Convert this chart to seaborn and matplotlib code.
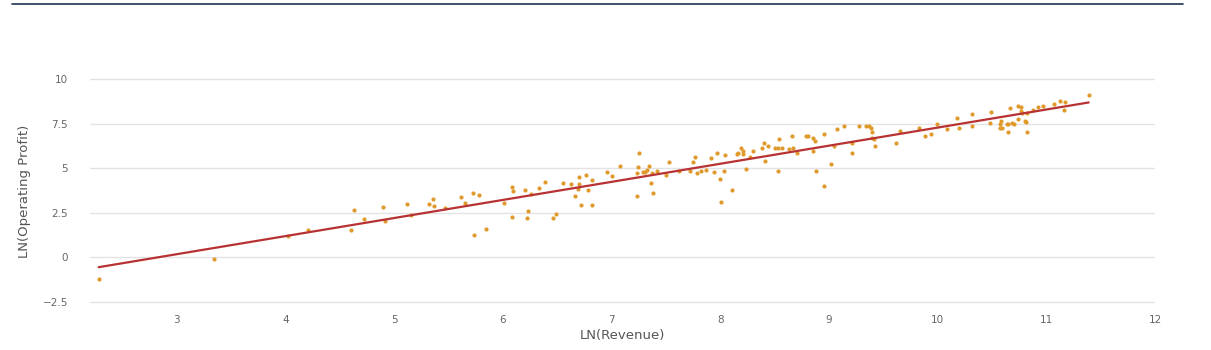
import matplotlib
matplotlib.use("Agg")
import matplotlib.pyplot as plt
import matplotlib.lines as mlines
import seaborn as sns
import pandas as pd

# Log revenue and log operating profit per company
ln_revenue = [
    2.28, 3.34, 4.02, 4.21, 4.60, 4.63, 4.72, 4.90, 4.91, 5.12, 5.15, 5.32,
    5.36, 5.37, 5.47, 5.61, 5.65, 5.72, 5.73, 5.78, 5.84, 6.01, 6.08, 6.09,
    6.08, 6.20, 6.23, 6.22, 6.26, 6.33, 6.39, 6.46, 6.49, 6.55, 6.63, 6.66,
    6.70, 6.70, 6.69, 6.72, 6.76, 6.78, 6.82, 6.82, 6.96, 7.00, 7.08, 7.23,
    7.23, 7.24, 7.25, 7.29, 7.31, 7.33, 7.34, 7.37, 7.36, 7.38, 7.42, 7.50,
    7.53, 7.62, 7.72, 7.75, 7.77, 7.79, 7.82, 7.87, 7.91, 7.94, 7.97, 8.00,
    8.01, 8.03, 8.04, 8.11, 8.15, 8.16, 8.19, 8.21, 8.21, 8.24, 8.27, 8.30,
    8.38, 8.40, 8.41, 8.44, 8.50, 8.53, 8.54, 8.53, 8.57, 8.63, 8.66, 8.67,
    8.71, 8.79, 8.81, 8.85, 8.85, 8.87, 8.88, 8.95, 8.95, 9.02, 9.05, 9.07,
    9.14, 9.21, 9.21, 9.28, 9.34, 9.37, 9.39, 9.40, 9.40, 9.41, 9.42, 9.62,
    9.65, 9.83, 9.88, 9.94, 9.99, 10.09, 10.18, 10.20, 10.32, 10.32, 10.48,
    10.49, 10.57, 10.58, 10.57, 10.59, 10.64, 10.65, 10.67, 10.65, 10.68,
    10.70, 10.74, 10.77, 10.74, 10.77, 10.78, 10.80, 10.81, 10.82, 10.82,
    10.88, 10.92, 10.97, 11.07, 11.13, 11.17, 11.16, 11.39,
]
ln_operating_profit = [
    -1.21, -0.09, 1.19, 1.53, 1.53, 2.64, 2.14, 2.81, 2.03, 2.98, 2.38, 2.98,
    3.26, 2.87, 2.76, 3.37, 3.03, 3.59, 1.25, 3.48, 1.58, 3.03, 3.93, 3.70,
    2.25, 3.76, 2.59, 2.20, 3.54, 3.87, 4.21, 2.20, 2.42, 4.15, 4.10, 3.42,
    4.49, 4.10, 3.82, 2.92, 4.60, 3.76, 4.32, 2.92, 4.77, 4.54, 5.10, 4.71,
    3.42, 5.04, 5.88, 4.77, 4.77, 4.88, 5.10, 4.71, 4.15, 3.59, 4.83, 4.60,
    5.32, 4.83, 4.83, 5.32, 5.60, 4.71, 4.83, 4.89, 5.55, 4.77, 5.83, 4.37,
    3.09, 4.83, 5.72, 3.76, 5.77, 5.83, 6.16, 5.94, 5.77, 4.94, 5.60, 5.99,
    6.11, 6.44, 5.38, 6.22, 6.16, 6.16, 6.66, 4.83, 6.11, 6.05, 6.78, 6.16,
    5.88, 6.78, 6.78, 6.72, 5.94, 6.50, 4.83, 6.89, 3.98, 5.21, 6.22, 7.17,
    7.34, 6.44, 5.88, 7.39, 7.39, 7.34, 7.23, 7.01, 6.72, 6.61, 6.27, 6.39,
    7.07, 7.23, 6.83, 6.89, 7.45, 7.17, 7.84, 7.28, 8.06, 7.39, 7.56,
    8.17, 7.50, 7.67, 7.23, 7.28, 7.50, 7.01, 8.40, 7.50, 7.56,
    7.50, 8.51, 8.45, 7.78, 8.23, 8.12, 7.67, 7.61, 7.01, 8.12,
    8.28, 8.45, 8.51, 8.62, 8.79, 8.73, 8.28, 9.12,
]

x_ticks = [3, 4, 5, 6, 7, 8, 9, 10, 11, 12]
y_ticks = [-2.5, 0, 2.5, 5, 7.5, 10]
y_tick_labels = ["−2.5", "0", "2.5", "5", "7.5", "10"]

df = pd.DataFrame({"LN(Revenue)": ln_revenue,
                   "LN(Operating Profit)": ln_operating_profit})

sns.set_theme(style="white")
plt.rcParams["font.family"] = ["DejaVu Sans"]

fig = plt.figure(figsize=(12.11, 3.5), dpi=100)
# y range padded slightly so the outer grid lines are not clipped
ax = fig.add_axes([90 / 1211, (350 - 303.8) / 350, (1155 - 90) / 1211, (303.8 - 78.1) / 350])

point_color = "#e09a2c"
line_color = "#b83234"

sns.regplot(data=df, x="LN(Revenue)", y="LN(Operating Profit)", ax=ax,
            ci=None, truncate=True,
            scatter_kws=dict(color=point_color, s=9, linewidths=0, alpha=1),
            line_kws=dict(color=line_color, lw=1.6))

ax.set_xlim(2.2, 12)
ax.set_ylim(-2.6, 10.05)
ax.set_xticks(x_ticks)
ax.set_yticks(y_ticks)
ax.set_yticklabels(y_tick_labels)
ax.yaxis.grid(True, color="#e3e3e3", lw=1)
ax.xaxis.grid(False)
ax.set_axisbelow(True)
for s in ax.spines.values():
    s.set_visible(False)
ax.tick_params(axis="both", length=0, labelsize=7.5, labelcolor="#666666")
ax.tick_params(axis="x", pad=8)
ax.tick_params(axis="y", pad=16)
ax.set_xlabel("LN(Revenue)", fontsize=9.5, color="#555555", labelpad=3)
ax.set_ylabel("LN(Operating Profit)", fontsize=9.5, color="#555555", labelpad=8)

# Dark rule across the top of the figure
fig.add_artist(mlines.Line2D([12 / 1211, 1183 / 1211], [1 - 3.5 / 350, 1 - 3.5 / 350],
                             transform=fig.transFigure, color="#1b3450", lw=1.2))

fig.savefig("out.png", dpi=100)
